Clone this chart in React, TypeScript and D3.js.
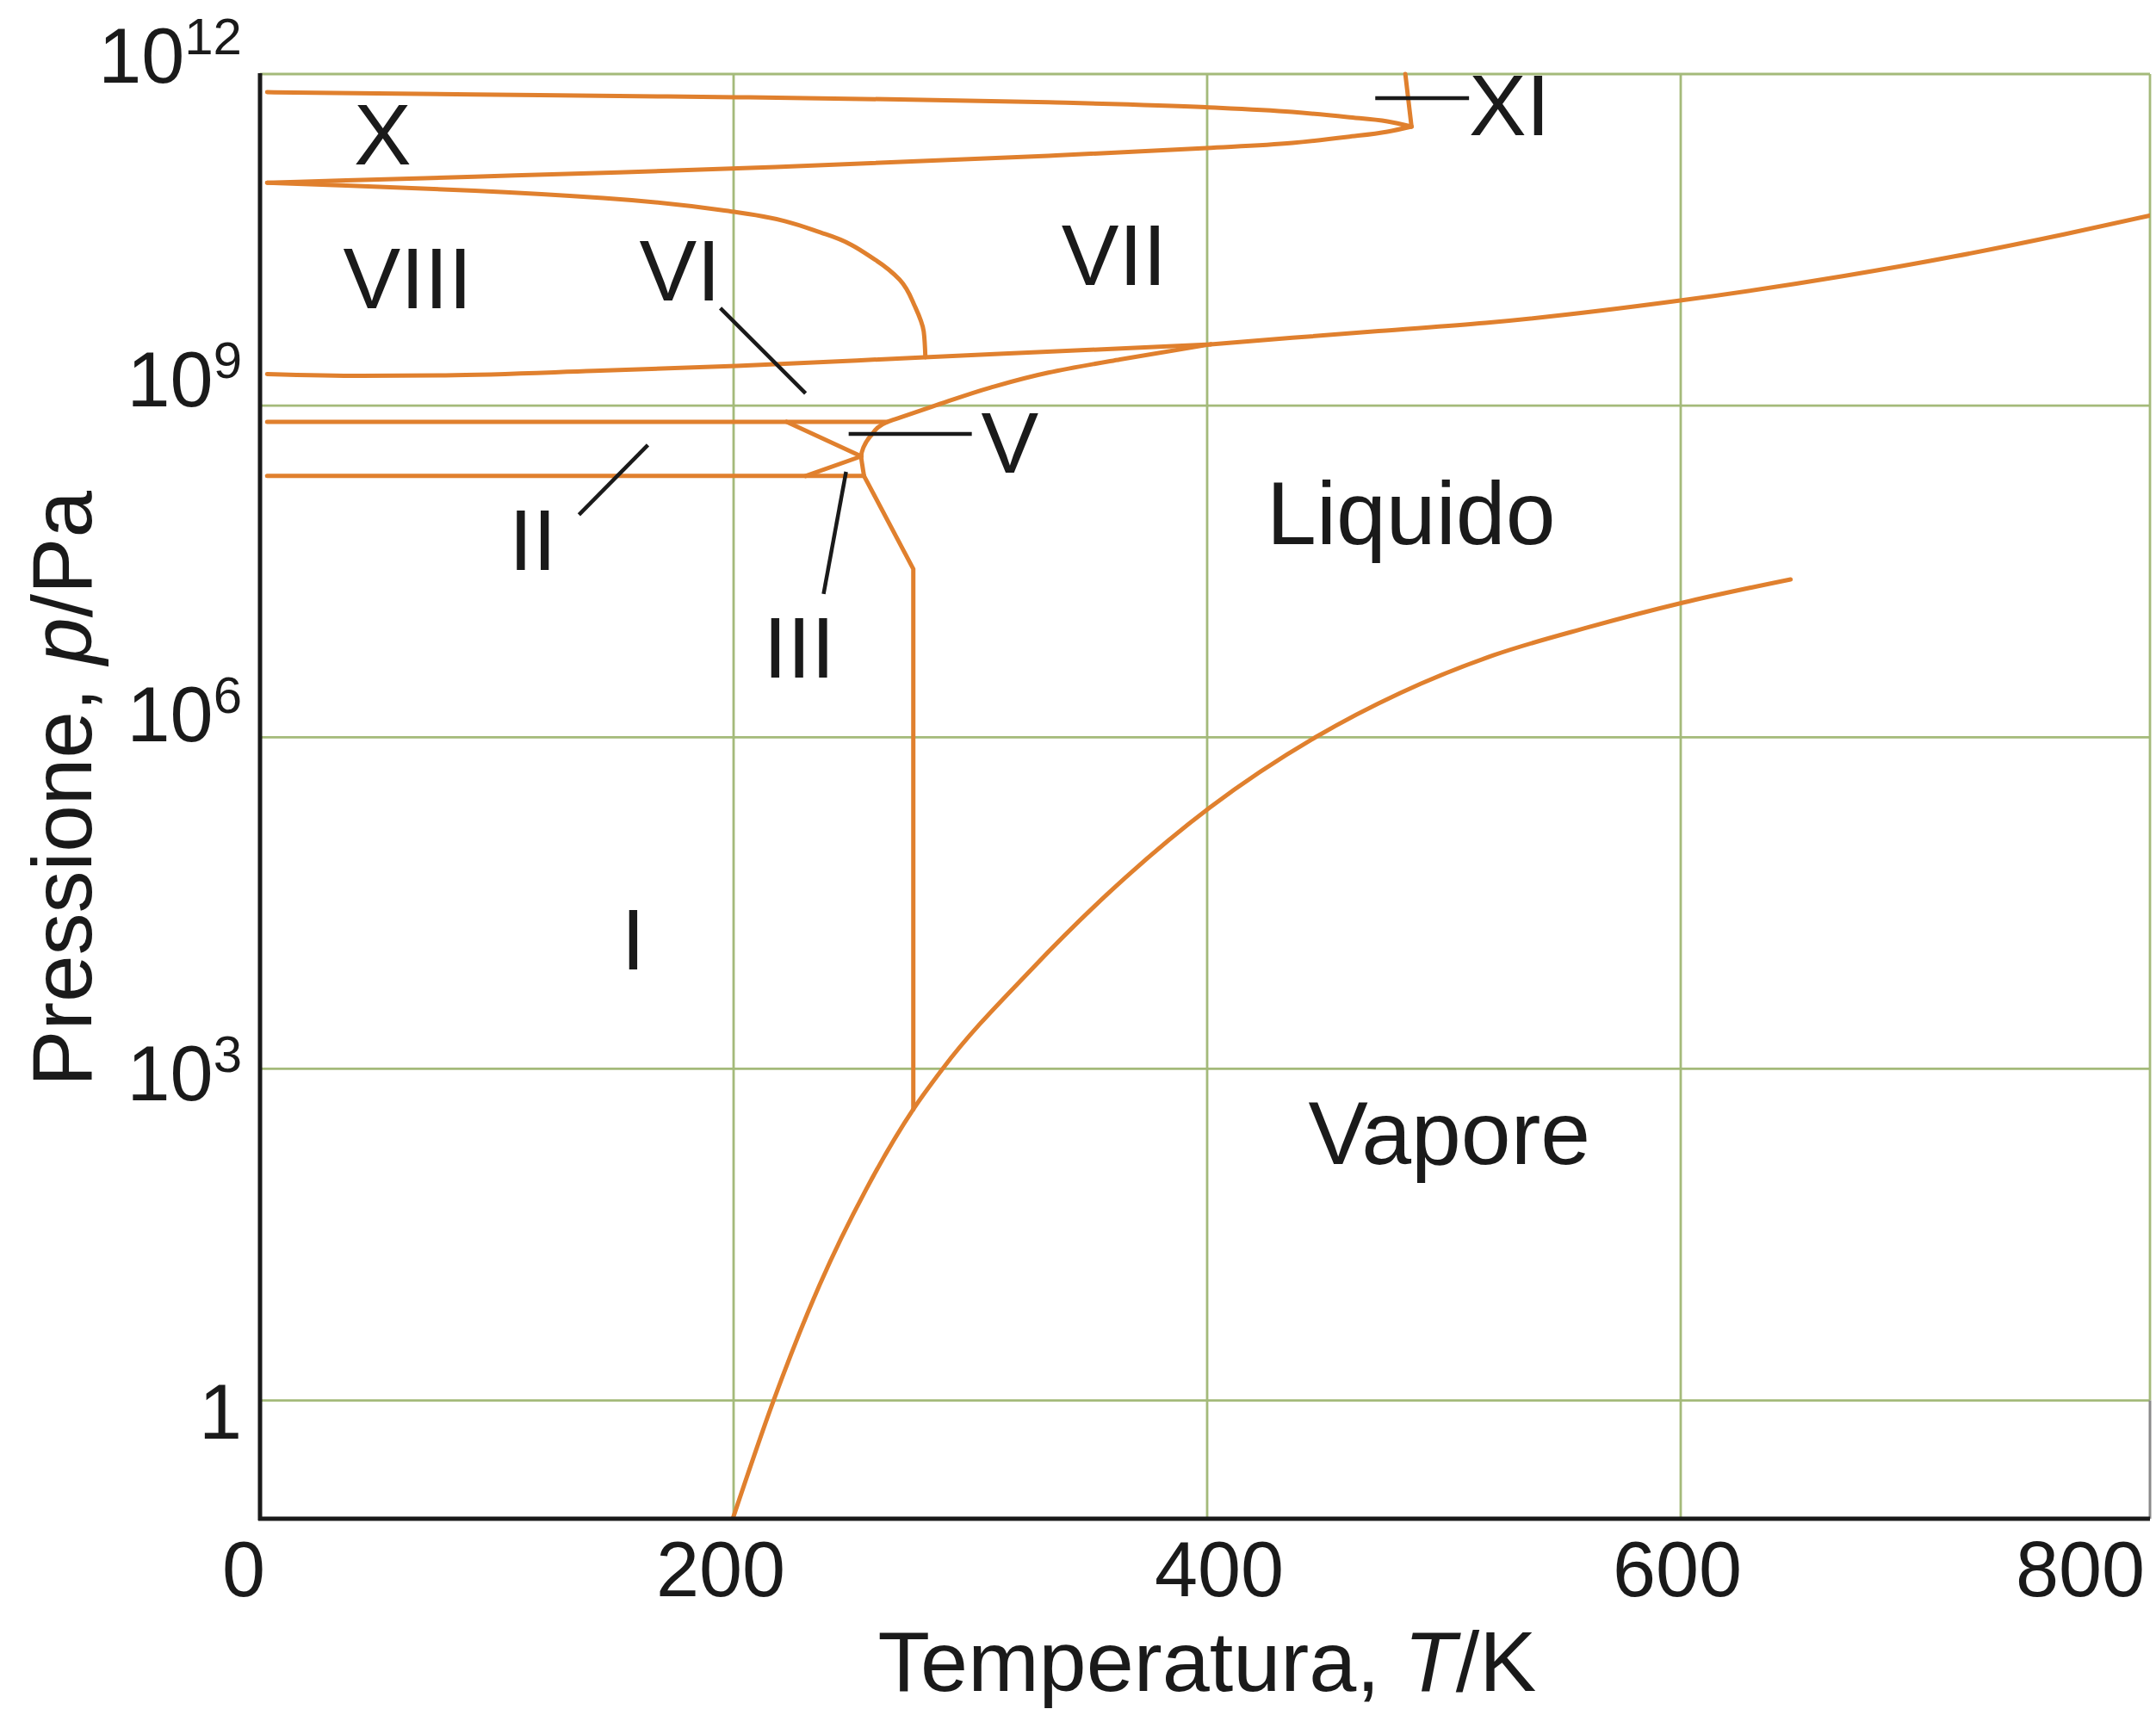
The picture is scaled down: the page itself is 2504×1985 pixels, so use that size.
import React from "react";
import * as d3 from "d3";

type Pt = [number, number]; // [T in K, p in Pa]

// ---------- axis ticks ----------
const tempTicks = [0, 200, 400, 600, 800];
const pressureTicks = [1, 1e3, 1e6, 1e9, 1e12];
const pressureTickExp = ["", "3", "6", "9", "12"];

// ---------- phase boundaries ----------
const iceXUpper: Pt[] = [
  [3, 6.85e11], [90.6, 6.53e11], [151.4, 6.33e11], [201.3, 6.17e11], [270.1, 5.89e11],
  [333.0, 5.55e11], [399.6, 5.01e11], [436.0, 4.54e11], [459.3, 4.08e11], [476.1, 3.73e11],
  [486.3, 3.35e11],
];
const iceXLower: Pt[] = [
  [3, 1.04e11], [36.4, 1.09e11], [90.6, 1.18e11], [151.4, 1.29e11], [217.7, 1.44e11],
  [333.0, 1.82e11], [399.6, 2.14e11], [436.0, 2.38e11], [459.3, 2.7e11], [476.1, 3.01e11],
  [486.3, 3.35e11],
];
const iceXIBoundary: Pt[] = [[486.3, 3.35e11], [483.7, 1e12]];
const iceVIIIUpper: Pt[] = [
  [3, 1.04e11], [36.4, 9.8e10], [90.6, 8.81e10], [144.9, 7.56e10], [201.3, 5.62e10],
  [238.8, 3.56e10], [259.9, 2.08e10], [270.1, 1.38e10], [276.6, 7.89e9], [280.3, 4.69e9],
  [281.0, 2.74e9],
];
const iceVIIILower: Pt[] = [
  [3, 1.93e9], [42.9, 1.86e9], [78.3, 1.88e9], [140.9, 2.06e9], [201.3, 2.29e9],
  [280.6, 2.74e9], [353.8, 3.22e9], [401.5, 3.59e9],
];
const iceVIIMelting: Pt[] = [
  [401.5, 3.59e9], [436.0, 4.11e9], [472.4, 4.73e9], [517.6, 5.6e9], [599.1, 8.89e9],
  [669.0, 1.49e10], [715.6, 2.24e10], [762.2, 3.56e10], [799.6, 5.33e10],
];
const iceVIMelting: Pt[] = [
  [401.5, 3.59e9], [363.2, 2.62e9], [333.0, 1.99e9], [308.6, 1.46e9], [284.3, 9.86e8],
  [270.4, 7.82e8], [265.0, 7.14e8], [257.7, 5.26e8], [254.8, 4.17e8], [253.9, 3.48e8],
  [254.4, 2.86e8], [255.1, 2.31e8],
];
const iceIMelting: Pt[] = [[255.1, 2.31e8], [275.9, 3.33e7], [275.9, 431]];
const iceIIUpper: Pt[] = [[3, 7.14e8], [265.0, 7.14e8]];
const iceIILower: Pt[] = [[3, 2.31e8], [255.1, 2.31e8]];
const iceIIIUpper: Pt[] = [[222.4, 7.14e8], [253.9, 3.48e8]];
const iceIIILower: Pt[] = [[230.4, 2.31e8], [253.9, 3.48e8]];
const vaporPressure: Pt[] = [
  [199.8, 0.0869], [216.9, 1.0], [236.4, 11.2], [255.9, 80.7], [275.9, 431], [288.4, 1010],
  [325.8, 7940], [358.1, 38500], [401.1, 2.31e5], [446.1, 1.01e6], [481.5, 2.51e6],
  [521.1, 5.53e6], [560.5, 9.82e6], [600.9, 1.65e7], [646.4, 2.68e7],
];

const monoXCurves: Pt[][] = [iceXUpper, iceXLower, iceVIIILower, iceVIIMelting, vaporPressure];
const monoYCurves: Pt[][] = [iceVIIIUpper, iceVIMelting];
const straightCurves: Pt[][] = [iceXIBoundary, iceIMelting, iceIIUpper, iceIILower, iceIIIUpper, iceIIILower];

// ---------- annotations ----------
const phaseNames = ["X", "VIII", "VI", "VII", "XI", "V", "II", "III", "I"];
const phaseAt: Pt[] = [
  [51.8, 1.52e11], [62.4, 7.62e9], [177.4, 8.95e9], [360.7, 1.24e10], [527.7, 2.8e11],
  [316.7, 2.48e8], [115.2, 3.27e7], [227.7, 3.47e6], [157.6, 7.94e3],
];
const fluidNames = ["Liquido", "Vapore"];
const fluidAt: Pt[] = [[486.1, 5.6e7], [502.3, 138]];
const leaderLines: [Pt, Pt][] = [
  [[194.4, 7.62e9], [230.4, 1.29e9]], // VI
  [[163.8, 4.4e8], [134.7, 1.03e8]], // II
  [[247.5, 2.52e8], [238.0, 1.98e7]], // III
  [[248.6, 5.56e8], [300.6, 5.56e8]], // V
  [[471.0, 6.05e11], [510.6, 6.05e11]], // XI
];

// ---------- layout / style ----------
const W = 2504;
const H = 1985;
const ORANGE = "#E0802E";
const GRID = "#A4BA7A";
const INK = "#1a1a1a";
const FONT = "'Liberation Sans', Arial, Helvetica, sans-serif";
const xTickDx = [-19, -15, 14, -4, -86];
const yTickDy = [44, 37, 5, 1, 10];

export default function App() {
  const x = d3.scaleLinear().domain([0, 800]).range([302, 2502]);
  const y = d3.scaleLog().domain([0.0851, 1e12]).range([1764, 86]);
  const left = x(0);
  const right = x(800) - 5;
  const top = y(1e12);
  const bottom = y(0.0851);

  const make = (curve: d3.CurveFactory) =>
    d3
      .line<Pt>()
      .x((d) => x(d[0]))
      .y((d) => y(d[1]))
      .curve(curve);
  const monoX = make(d3.curveMonotoneX);
  const monoY = make(d3.curveMonotoneY);
  const straight = make(d3.curveLinear);

  return (
    <svg
      width={W}
      height={H}
      viewBox={`0 0 ${W} ${H}`}
      style={{ position: "absolute", left: 0, top: 0, background: "#fff" }}
      fontFamily={FONT}
    >
      <defs>
        <clipPath id="plotArea">
          <rect x={left} y={top - 3} width={right - left} height={bottom - top + 3} />
        </clipPath>
      </defs>
      <rect x={0} y={0} width={W} height={H} fill="#fff" />

      {/* grid */}
      <g stroke={GRID} strokeWidth={2.8}>
        {pressureTicks.map((p) => (
          <line key={"h" + p} x1={left} x2={right} y1={y(p)} y2={y(p)} />
        ))}
        {tempTicks.slice(1, 4).map((t) => (
          <line key={"v" + t} x1={x(t)} x2={x(t)} y1={top} y2={bottom} />
        ))}
        <line x1={right} x2={right} y1={top} y2={y(1)} />
      </g>
      <line x1={right} x2={right} y1={y(1)} y2={bottom} stroke="#8a8a8a" strokeWidth={3} />

      {/* phase boundaries */}
      <g
        fill="none"
        stroke={ORANGE}
        strokeWidth={5}
        strokeLinejoin="round"
        strokeLinecap="round"
        clipPath="url(#plotArea)"
      >
        {monoXCurves.map((c, i) => (
          <path key={"mx" + i} d={monoX(c) || ""} />
        ))}
        {monoYCurves.map((c, i) => (
          <path key={"my" + i} d={monoY(c) || ""} />
        ))}
        {straightCurves.map((c, i) => (
          <path key={"l" + i} d={straight(c) || ""} />
        ))}
      </g>

      {/* axes */}
      <line x1={left} x2={left} y1={top - 1} y2={bottom + 2} stroke={INK} strokeWidth={5} />
      <line x1={left - 2} x2={right} y1={bottom} y2={bottom} stroke={INK} strokeWidth={5} />

      {/* leader lines */}
      <g stroke={INK} strokeWidth={4.5}>
        {leaderLines.map(([a, b], i) => (
          <line key={"ld" + i} x1={x(a[0])} y1={y(a[1])} x2={x(b[0])} y2={y(b[1])} />
        ))}
      </g>

      {/* region labels */}
      <g fill={INK} fontSize={100} textAnchor="middle">
        {phaseNames.map((n, i) => (
          <text key={n} x={x(phaseAt[i][0])} y={y(phaseAt[i][1])}>
            {n}
          </text>
        ))}
      </g>
      <g fill={INK} fontSize={104} textAnchor="middle">
        {fluidNames.map((n, i) => (
          <text key={n} x={x(fluidAt[i][0])} y={y(fluidAt[i][1])}>
            {n}
          </text>
        ))}
      </g>

      {/* x tick labels */}
      <g fill={INK} fontSize={90} textAnchor="middle">
        {tempTicks.map((t, i) => (
          <text key={"xt" + t} x={x(t) + xTickDx[i]} y={1854}>
            {t}
          </text>
        ))}
      </g>

      {/* y tick labels */}
      <g fill={INK} fontSize={90} textAnchor="end">
        {pressureTicks.map((p, i) => (
          <text key={"yt" + p} x={281} y={y(p) + yTickDy[i]}>
            {pressureTickExp[i] === "" ? (
              "1"
            ) : (
              <>
                {"10"}
                <tspan fontSize={60} dy={-33}>
                  {pressureTickExp[i]}
                </tspan>
              </>
            )}
          </text>
        ))}
      </g>

      {/* axis titles */}
      <text x={x(400)} y={1963.5} fontSize={99} textAnchor="middle" fill={INK}>
        {"Temperatura, "}
        <tspan fontStyle="italic">T</tspan>
        {"/K"}
      </text>
      <text
        transform={`translate(106, ${(top + bottom) / 2 - 9}) rotate(-90)`}
        fontSize={98}
        textAnchor="middle"
        fill={INK}
      >
        {"Pressione, "}
        <tspan fontStyle="italic">p</tspan>
        {"/Pa"}
      </text>
    </svg>
  );
}
